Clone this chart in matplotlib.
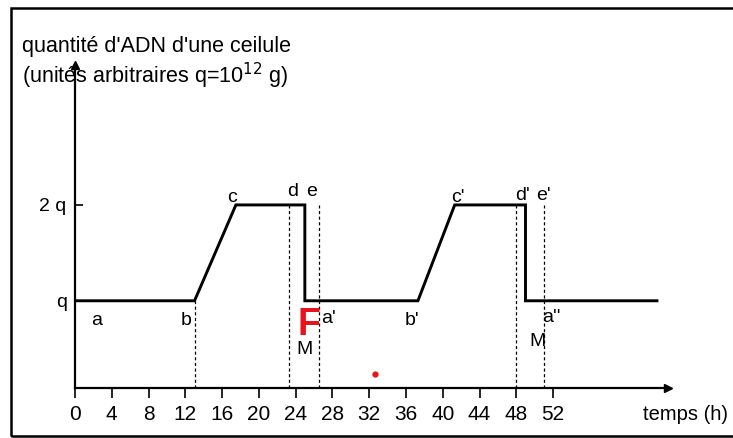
import matplotlib.pyplot as plt
from matplotlib.patches import Rectangle

plt.rcParams['font.family'] = ['Liberation Sans', 'DejaVu Sans']
narrow = ['Liberation Sans Narrow', 'Liberation Sans', 'DejaVu Sans']

# DNA quantity per cell (units of q) over time (h)
time = [0, 13, 17.5, 25, 25, 37.3, 41.3, 49, 49, 63.3]
dna = [1, 1, 2, 2, 1, 1, 2, 2, 1, 1]

# dashed guides: (time, top level)
guide_t = [13, 23.3, 26.5, 48, 51]
guide_top = [1, 2, 2, 2, 2]

xticks = list(range(0, 53, 4))
ytick_vals = [1, 2]
ytick_labels = ['q', '2 q']

# point labels
lab_text = ['a', 'b', 'c', 'd', 'e', "a'", 'M', "b'", "c'", "d'", "e'", "a''", 'M']
lab_x = [2.4, 12.1, 17.1, 23.7, 25.7, 27.6, 25.0, 36.7, 41.6, 48.7, 51.0, 51.8, 50.3]
lab_y = [0.79, 0.79, 2.08, 2.14, 2.14, 0.81, 0.49, 0.79, 2.08, 2.10, 2.10, 0.83, 0.57]

W, H = 733, 438
fig = plt.figure(figsize=(W / 100, H / 100), dpi=100)
ax = fig.add_axes([75 / W, (H - 388) / H, (668 - 75) / W, (388 - 65) / H])

ax.plot(time, dna, color='black', lw=2.1, solid_joinstyle='miter')

ax.set_xlim(0, 64.5)
ax.set_ylim(0.09, 3.46)
ymin = ax.get_ylim()[0]
ax.vlines(guide_t, ymin, guide_top, colors='black', linestyles=(0, (2.5, 2)), lw=0.9)

for s in ['top', 'right']:
    ax.spines[s].set_visible(False)
for s in ['left', 'bottom']:
    ax.spines[s].set_linewidth(1.6)
ax.plot(1, 0, '>k', ms=6, transform=ax.transAxes, clip_on=False)
ax.plot(0, 1, '^k', ms=6, transform=ax.transAxes, clip_on=False)

ax.set_xticks(xticks)
ax.set_xticklabels([str(t) for t in xticks], family=narrow, fontsize=15)
ax.tick_params(axis='x', direction='out', length=7, width=1.2, pad=5)
ax.set_yticks(ytick_vals)
ax.set_yticklabels(ytick_labels, fontsize=14)
ax.tick_params(axis='y', direction='in', length=6, width=1.2, pad=6)

for t, x, y in zip(lab_text, lab_x, lab_y):
    ax.text(x, y, t, ha='center', va='center', fontsize=14)

ax.text(25.4, 0.75, 'F', color='#e8141b', fontsize=27, fontweight='bold',
        ha='center', va='center')
ax.plot(32.6, 0.24, 'o', color='#e8141b', ms=3.5)

fig.text(22 / W, 1 - 36 / H,
         "quantité d'ADN d'une ceilule\n(unités arbitraires q=10$^{12}$ g)",
         ha='left', va='top', fontsize=15.5, linespacing=1.15)
fig.text(728 / W, 1 - 414 / H, 'temps (h)', ha='right', va='center', fontsize=14.5)

fig.patches.append(Rectangle((11 / W, 2 / H), 1.0, 1 - 10 / H, transform=fig.transFigure,
                             fill=False, lw=1.8, ec='black'))

fig.savefig('out.png', dpi=100)
